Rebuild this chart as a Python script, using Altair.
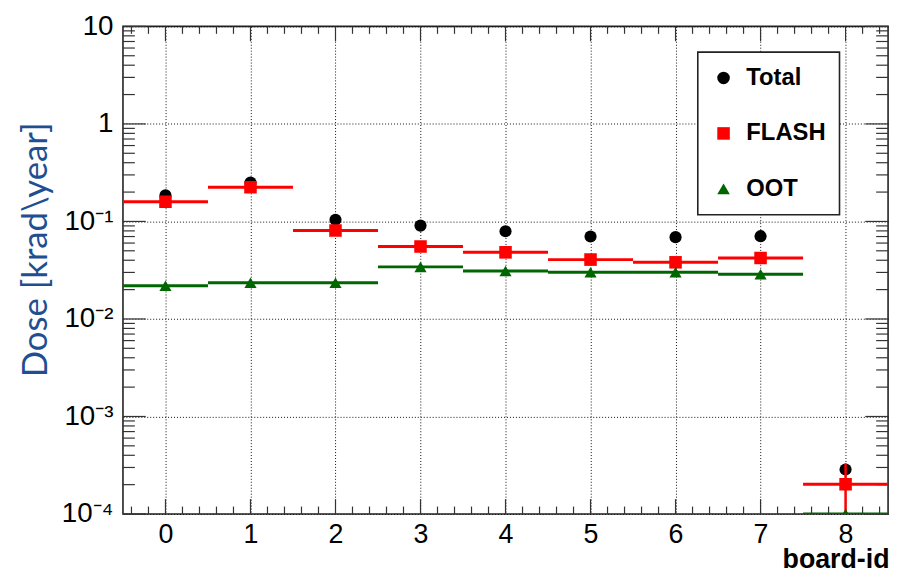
import altair as alt
import pandas as pd

# ---------------- data ----------------
boards = [0, 1, 2, 3, 4, 5, 6, 7, 8]
total = [0.185, 0.25, 0.104, 0.0906, 0.0794, 0.0701, 0.069, 0.0706, 2.86e-4]
flash = [0.159, 0.224, 0.0807, 0.0554, 0.0482, 0.0406, 0.0381, 0.0422, 2.02e-4]
oot = [0.0219, 0.0235, 0.0235, 0.0342, 0.0311, 0.0302, 0.0302, 0.0288, 1.0e-4]
flash_err = [0, 0, 0, 0, 0, 0, 0, 0, 1.28e-4]

series_names = ["Total", "FLASH", "OOT"]
series_colors = ["#000000", "#ff0000", "#006600"]
series_shapes = ["circle", "square", "triangle-up"]

x_major = [0, 1, 2, 3, 4, 5, 6, 7, 8]
x_minor = [round(-0.4 + 0.2 * i, 1) for i in range(45) if abs((-0.4 + 0.2 * i) - round(-0.4 + 0.2 * i)) > 1e-6]
y_decades = [1e-4, 1e-3, 1e-2, 1e-1, 1, 10]
y_labels = ["10\u207b\u2074", "10\u207b\u00b3", "10\u207b\u00b2", "10\u207b\u00b9", "1", "10"]
y_minor = [m * d for d in y_decades[:-1] for m in range(2, 10)]

W, H = 772, 492

# ---------------- tables ----------------
df_total = pd.DataFrame({"board": boards, "value": total, "series": "Total"})
df_flash = pd.DataFrame({"board": boards, "value": flash, "series": "FLASH",
                         "lo": [b - 0.5 for b in boards], "hi": [b + 0.5 for b in boards],
                         "elo": [v - e for v, e in zip(flash, flash_err)],
                         "ehi": [v + e for v, e in zip(flash, flash_err)],
                         "err": flash_err})
df_oot = pd.DataFrame({"board": boards, "value": oot, "series": "OOT",
                       "lo": [b - 0.5 for b in boards], "hi": [b + 0.5 for b in boards]})

xscale = alt.Scale(domain=[-0.5, 8.5], nice=False, zero=False)
yscale = alt.Scale(type="log", domain=[1e-4, 10], nice=False)

label_expr = "'10'"
for v, l in zip(y_decades, y_labels):
    label_expr = f"abs(datum.value / {v} - 1) < 1e-6 ? '{l}' : ({label_expr})"

x_axis = alt.Axis(values=x_major, format="d", grid=True, gridDash=[1, 2], gridColor="#111",
                  gridWidth=1, ticks=False, domain=False, labelFont="Liberation Sans",
                  labelFontSize=27, labelColor="#000", labelBaseline="alphabetic",
                  labelPadding=29, labelFlush=False,
                  title="board-id", titleFont="Liberation Sans", titleFontSize=27,
                  titleFontWeight="bold", titleColor="#000", titleAlign="right",
                  titleAnchor="end", titleBaseline="alphabetic", titleX=W + 1, titleY=54)
y_axis = alt.Axis(values=y_decades, labelExpr=label_expr, grid=True, gridDash=[1, 2],
                  gridColor="#111", gridWidth=1, ticks=False, domain=False,
                  labelFont="Liberation Sans", labelFontSize=28, labelColor="#000",
                  labelPadding=10, labelBaseline="middle", labelOverlap=False,
                  title="Dose [krad\\year]", titleFont="Lato", titleFontSize=35,
                  titleFontWeight="normal", titleColor="#1f4f91", titleAngle=270,
                  titleAlign="center", titleBaseline="alphabetic", titleX=-77, titleY=225)

legend = alt.Legend(title=None, orient="none", legendX=580, legendY=26, padding=14,
                    rowPadding=32, labelFont="Liberation Sans", labelFontSize=24,
                    labelFontWeight="bold", labelColor="#000", labelOffset=11,
                    symbolSize=160, symbolStrokeWidth=0, strokeColor="#222",
                    fillColor="#ffffff",
                    labelExpr="datum.label + '\u2002\u2002'")

color_enc = alt.Color("series:N", scale=alt.Scale(domain=series_names, range=series_colors), legend=legend)
shape_enc = alt.Shape("series:N", scale=alt.Scale(domain=series_names, range=series_shapes), legend=legend)


def X(field):
    return alt.X(field, type="quantitative", scale=xscale, axis=x_axis)


def Y(field):
    return alt.Y(field, type="quantitative", scale=yscale, axis=y_axis)


def pts(df, size):
    return alt.Chart(df).mark_point(filled=True, size=size, opacity=1, clip=True, strokeWidth=0).encode(
        x=X("board"), y=Y("value"), color=color_enc, shape=shape_enc)


def hbar(df, color):
    return alt.Chart(df).mark_rule(color=color, strokeWidth=3, clip=True).encode(
        x=X("lo"), x2="hi", y=Y("value"))


total_pts = pts(df_total, 150)
flash_bar = hbar(df_flash, "#ff0000")
flash_err_bar = alt.Chart(df_flash).transform_filter("datum.err > 0").mark_rule(
    color="#ff0000", strokeWidth=2.5, clip=True).encode(
    x=X("board"), y=Y("elo"), y2="ehi")
flash_pts = pts(df_flash, 160)
oot_bar = hbar(df_oot, "#006600")
oot_pts = pts(df_oot, 150)

tick_color = "#333"


def yticks(vals, length):
    d = pd.DataFrame({"v": vals})
    left = alt.Chart(d).mark_rule(color=tick_color, strokeWidth=1.2).encode(
        y=Y("v"), x=alt.value(0), x2=alt.value(length))
    right = alt.Chart(d).mark_rule(color=tick_color, strokeWidth=1.2).encode(
        y=Y("v"), x=alt.value(W - length), x2=alt.value(W))
    return [left, right]


def xticks(vals, length):
    d = pd.DataFrame({"v": vals})
    bottom = alt.Chart(d).mark_rule(color=tick_color, strokeWidth=1.2).encode(
        x=X("v"), y=alt.value(H - length), y2=alt.value(H))
    top = alt.Chart(d).mark_rule(color=tick_color, strokeWidth=1.2).encode(
        x=X("v"), y=alt.value(0), y2=alt.value(length))
    return [bottom, top]


tick_layers = yticks(y_decades, 23) + yticks(y_minor, 12) + xticks(x_major, 15) + xticks(x_minor, 7.5)

chart = alt.layer(
    total_pts, *tick_layers, flash_bar, flash_err_bar, flash_pts, oot_bar, oot_pts
).properties(
    width=W, height=H,
    autosize=alt.AutoSizeParams(type="none"),
    padding={"left": 116, "top": 16, "right": 8, "bottom": 60},
    background="#ffffff",
).configure_view(stroke="#222", strokeWidth=1.6).configure_legend(strokeWidth=1.6)

chart.save("out.html", embed_options={"renderer": "svg", "actions": False})
